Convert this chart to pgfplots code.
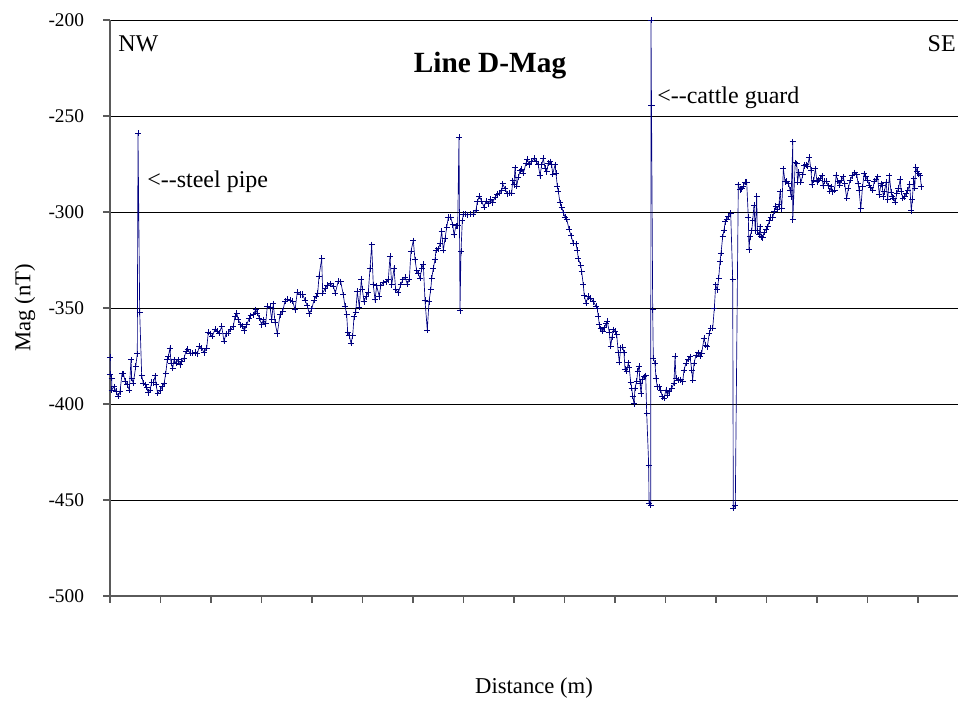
\documentclass[border=0pt]{standalone}
\usepackage{pgfplots}
\pgfplotsset{compat=1.18}
\usepackage{fontspec}
\setmainfont{Liberation Serif}
\definecolor{navy}{RGB}{0,0,128}
\definecolor{axgray}{RGB}{90,90,90}
\begin{document}
\begin{tikzpicture}
\useasboundingbox (0,0) rectangle (718.5pt,526.5pt);
\begin{axis}[
  at={(82.5pt,79.5pt)}, anchor=south west,
  scale only axis, width=636pt, height=432pt,
  xmin=0, xmax=848, ymin=-500, ymax=-200,
  axis x line*=bottom, axis y line*=left,
  axis line style={axgray, line width=0.8pt, -},
  xtick={0,50.5,...,810}, xticklabels={},
  ytick={-500,-450,...,-200},
  tick align=outside, major tick length=5pt,
  tick style={axgray, line width=0.8pt},
  ymajorgrids, grid style={black, line width=0.7pt},
  /pgf/number format/assume math mode=true,
  yticklabel style={font=\fontsize{14.5}{16}\selectfont, xshift=-11pt},
]
\addplot[navy, line width=0.5pt, mark=+, mark size=2.3pt,
  mark options={navy, line width=0.7pt}] coordinates {
(0,-375.8) (0,-384.5) (1.7,-386.6) (1.7,-392.7) (4,-391) (6,-393.5) (8.3,-396) (10,-393.5)
(12,-384.3) (13.3,-384.3) (15.3,-388.3) (17.3,-390) (19.3,-392.7) (21,-377) (21.7,-386.6)
(23.3,-389.2) (25.7,-380.5) (27.3,-373.9) (28,-258.9) (29.7,-352.3) (31.7,-385.2) (33.3,-389.2)
(35.7,-390) (36.7,-391.3) (38.3,-394) (40,-392.7) (41.7,-388.8) (43.3,-388.8) (45.3,-385.4)
(46,-390) (47.7,-394.4) (50,-393) (52.3,-391) (54,-389.5) (55.7,-384.3) (57.3,-377) (58.3,-375.3)
(60,-370.9) (61,-378.7) (62.7,-381.4) (64,-377) (66,-378.7) (68.3,-377) (70,-379.6) (71.7,-377.9)
(74,-376.1) (76,-372.6) (77.7,-371.4) (80,-373.5) (82.7,-373.5) (85,-373.2) (87.3,-373.9)
(89.3,-370) (91.7,-370.9) (94,-373.2) (96.7,-370.9) (98.3,-362.7) (100,-363.4) (102.3,-364.8)
(105,-361) (107.3,-362.2) (109.3,-363.1) (111.7,-359.6) (114,-367.4) (116,-363.4) (118.3,-363.1)
(120.7,-361) (123.3,-359.6) (125,-354.4) (126.7,-352.6) (128.3,-356.1) (130.7,-358.7)
(132.7,-359.6) (134.3,-361.7) (136.7,-358.7) (139,-355.7) (140.7,-354) (143.3,-353.5)
(145.7,-350.9) (147.3,-352.6) (149.3,-355.2) (151.7,-358.7) (153.3,-356.1) (155.7,-358.2)
(157.3,-349.1) (160,-349.5) (161.7,-356.1) (163.3,-347.7) (165,-357.5) (167.3,-363.4)
(170,-353.5) (172.7,-351.7) (175,-346.5) (177.3,-345.3) (180,-346) (182.7,-346.5) (185,-350.9)
(187.3,-341.8) (190,-343) (192.7,-343) (195,-346) (197.3,-348.8) (199.3,-353) (201.7,-350.5)
(204,-346) (206,-343.9) (207.7,-342.2) (209,-333.5) (211.7,-324.2) (212.7,-342.2) (215,-340)
(217.3,-338.3) (220,-337.3) (223.3,-338.7) (225.3,-342.2) (228.3,-336) (230.7,-336.3)
(233.3,-343.1) (235,-349.1) (236.7,-353.4) (237.7,-362.5) (239.3,-364.5) (241,-368.3)
(242.7,-364.5) (244,-354.6) (245.7,-352.2) (247.3,-341.4) (249.3,-349.5) (251.3,-335.1)
(252.3,-340.2) (254,-346.6) (256,-344) (258.3,-341.9) (260,-329.4) (261.7,-317) (263.3,-338)
(265,-345.7) (266.7,-338.5) (269.3,-344) (270.7,-338.5) (273.3,-336.8) (276,-336.3)
(278.3,-335.4) (280,-323.1) (281.7,-338) (284,-329.4) (285.7,-340.6) (288.3,-341.9)
(290.7,-338) (292.7,-335.4) (295,-334) (297.3,-337.5) (299.3,-335.1) (301,-320.4) (303.3,-314.9)
(305,-324.8) (306.7,-330.6) (308.3,-332) (310,-334.6) (311.7,-329.4) (313.3,-327.2) (315,-346.1)
(317.3,-361.5) (319,-346.6) (320.7,-340.6) (321.7,-334.6) (323.3,-329.4) (325,-324.8) (326,-320)
(328.3,-319.2) (330,-316.6) (331.7,-310.1) (333.3,-320) (335,-314) (336.7,-308) (338.3,-302.9)
(340.7,-302.6) (342.7,-306.7) (344,-311.8) (346,-307.2) (347.7,-307.2) (349,-261) (350,-351.4)
(351,-320.4) (352.3,-304.6) (353.3,-301.2) (355,-301.2) (357.3,-301.5) (360,-301.2)
(363.3,-301.2) (366,-299.1) (367.3,-294.7) (369.3,-291.8) (371.7,-294.4) (374,-297.4)
(376,-294.4) (378.3,-295.7) (380.7,-293.5) (382.7,-295.2) (385,-292.3) (387.3,-290.9)
(389.3,-290.1) (391.7,-288.9) (392.7,-285.4) (395,-287.8) (397.3,-290.6) (399.3,-290.1)
(401.7,-290.1) (402.7,-283.7) (404,-285.8) (405,-276.9) (406.7,-286.6) (408.3,-282) (410,-278.6)
(411.7,-277.6) (413.3,-279.8) (416,-274.7) (417.3,-272.4) (419.3,-275.5) (421.7,-273.8)
(424,-272.1) (426,-273.5) (428.3,-275.5) (430,-281) (431.7,-275.5) (433.3,-272.1) (435,-277.2)
(436.7,-278.9) (438.3,-274.7) (440,-273.8) (441.7,-275.5) (442.7,-280.3) (445,-275.5)
(446,-279.8) (447.3,-286.6) (448.3,-289.2) (450,-295.2) (451.7,-297.4) (453.3,-300.3)
(455,-302.6) (456.7,-303.8) (459,-308.9) (461,-312.3) (463.3,-316.3) (466,-316.6) (467.3,-320)
(468.3,-324.3) (470.7,-327.7) (471.7,-331.2) (473.3,-338) (474.3,-343.7) (476,-347.4)
(478.3,-344) (480.7,-344.9) (483.3,-346.6) (486,-349.1) (487.3,-350.5) (488.3,-354.3)
(489.3,-358.7) (490.7,-360.9) (492.7,-362.2) (494.3,-360.4) (496,-358.2) (497.3,-356.9)
(499.3,-362.7) (500.7,-370) (502,-365.1) (503.3,-361.3) (505,-362.2) (506.7,-363.9)
(508.3,-373.4) (509.3,-378.3) (510.7,-370.8) (512.7,-370.3) (514,-373.4) (515,-381.8)
(516.7,-383) (518.3,-378.6) (519.3,-381.2) (520.7,-388.7) (521.7,-391.7) (522.7,-396)
(524,-399.8) (525,-391.7) (526.7,-388.2) (527.7,-383) (529,-380.4) (530,-389.1) (531,-394.6)
(532.3,-387.3) (534,-385.9) (535.7,-385.2) (536.7,-404.8) (538.7,-431.8) (539,-451.7)
(540.7,-452.6) (541,-200) (541.5,-244.3) (542.7,-351) (543.3,-376.2) (545,-378.8) (546,-386.6)
(547.3,-391) (549.3,-391) (550.7,-392.7) (552.3,-396.2) (554,-397) (556,-392.7) (557.3,-395.3)
(559.3,-393.6) (561.7,-391.8) (564,-389.2) (565,-375) (566,-386.6) (568.3,-387.5) (570.7,-387.3)
(572.7,-388.4) (574,-382.3) (576,-378.8) (578.3,-376.7) (580,-375.3) (581.7,-382.3)
(582.7,-387.5) (584,-378.8) (586,-374.5) (588.3,-373.3) (590,-375) (591.7,-373.6) (594,-365.8)
(595.7,-369.3) (597.3,-370.1) (599.3,-363.2) (600.7,-360.6) (602.7,-360.6) (604.3,-350.2)
(605.7,-338) (607.3,-340.6) (608.7,-334.5) (610,-325.9) (611,-321.5) (612.7,-312.8) (614,-309.4)
(615.3,-305) (616.7,-303.8) (618.3,-302.4) (620.7,-300.7) (622.7,-335.1) (623.3,-454.3)
(625.3,-452.6) (628.3,-285.8) (630,-288.4) (631.7,-287.8) (633.3,-286.6) (635,-284.4)
(636.7,-284.4) (638.3,-302.9) (639,-319.7) (640,-312.8) (641.7,-309.8) (642.7,-304.6)
(644,-296.4) (645.3,-309.8) (646.7,-291.8) (647.3,-309.8) (649,-311.8) (650,-307.7) (651,-312.8)
(652.7,-313.5) (654,-310.6) (656,-308.9) (657.7,-307.7) (659.3,-304.6) (660.7,-302.9)
(662.7,-302.9) (664.3,-299.5) (665.7,-296.9) (667.3,-298.6) (669,-296.1) (670,-289.4)
(671.7,-298.3) (673.4,-277.5) (675,-284.3) (676.7,-284) (678.4,-285.2) (680.1,-288.6)
(681.1,-292) (682.8,-263.5) (682.8,-303.9) (685.2,-274.4) (686.8,-274.9) (687.5,-284.6)
(688.9,-279.2) (690.9,-284.6) (692.9,-280.6) (694.2,-275.8) (696.3,-275.4) (697.6,-276.1)
(699.3,-271.5) (701,-278.3) (702,-285.7) (703.7,-283.5) (705.4,-277.5) (707,-284.3)
(708.7,-283.5) (710.4,-282.3) (712.1,-281.2) (713.1,-286.4) (714.8,-284) (716.5,-284)
(718.1,-286.4) (719.8,-289.1) (721.2,-286.9) (722.9,-289.4) (724.5,-288.6) (726.2,-280.9)
(727.9,-284) (729.6,-286) (731.3,-283.5) (733.3,-281.7) (734.6,-285.2) (736.7,-292.8)
(738.4,-287.7) (740,-283.5) (742.4,-281.2) (744.7,-279.5) (746.8,-280.6) (748.1,-285.2)
(749.1,-288.6) (750.8,-298.3) (752.5,-286.9) (754.2,-280) (755.9,-281.7) (757.5,-283.5)
(759.2,-286) (760.9,-287.4) (762.6,-288.6) (764.3,-284) (766,-282.9) (767.6,-281.7)
(769.3,-291.1) (771,-285.2) (772,-286) (773.4,-292) (774.4,-289.4) (776.1,-284.6) (777.7,-293.7)
(779.4,-281.2) (781.1,-289.8) (782.1,-292) (783.5,-292.8) (785.2,-294.9) (786.8,-290.3)
(788.5,-287.7) (790.2,-282.9) (791.2,-289.4) (792.9,-292.8) (794.6,-292) (796.3,-290.3)
(797.9,-288.6) (799.6,-285.7) (801.3,-299.3) (802.3,-293.7) (803.7,-282.6) (804.7,-287.7)
(805.7,-276.6) (807,-278.9) (808.7,-280) (810.1,-281.2) (811.4,-286.9)
};
\end{axis}
\node[font=\bfseries\fontsize{22}{26}\selectfont] at (367.5pt,477pt) {Line D-Mag};
\node[anchor=west, inner sep=0pt, font=\fontsize{18}{21}\selectfont] at (88.5pt,493.5pt) {NW};
\node[anchor=east, inner sep=0pt, font=\fontsize{18}{21}\selectfont] at (717pt,493.5pt) {SE};
\node[anchor=west, inner sep=0pt, font=\fontsize{18}{21}\selectfont] at (110.25pt,390.5pt) {<{-}{-}steel pipe};
\node[anchor=west, inner sep=0pt, font=\fontsize{18}{21}\selectfont] at (492.75pt,453.5pt) {<{-}{-}cattle guard};
\node[font=\fontsize{17}{20}\selectfont] at (400.5pt,10.5pt) {Distance (m)};
\node[rotate=90, font=\fontsize{17}{20}\selectfont] at (18.75pt,295.5pt) {Mag (nT)};
\end{tikzpicture}
\end{document}
